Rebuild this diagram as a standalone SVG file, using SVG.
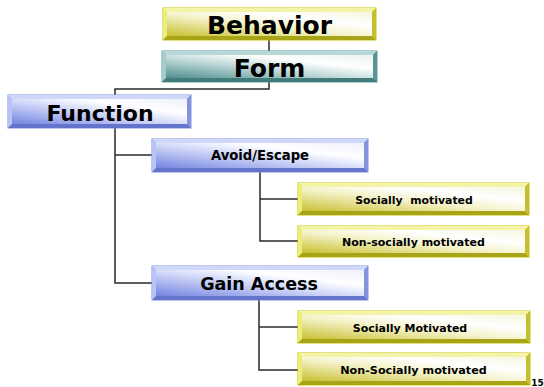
<svg xmlns="http://www.w3.org/2000/svg" width="544" height="387" viewBox="0 0 544 387">
<defs>
<linearGradient id="gy" x1="0" y1="1" x2="1" y2="0"><stop offset="0" stop-color="#c8c030"/><stop offset="0.45" stop-color="#f4f2c8"/><stop offset="0.7" stop-color="#ffffff"/><stop offset="1" stop-color="#f6f6e0"/></linearGradient>
<linearGradient id="gb" x1="0" y1="1" x2="1" y2="0"><stop offset="0" stop-color="#7384e0"/><stop offset="0.45" stop-color="#cfd6f8"/><stop offset="0.7" stop-color="#ffffff"/><stop offset="1" stop-color="#eef0fc"/></linearGradient>
<linearGradient id="gt" x1="0" y1="1" x2="1" y2="0"><stop offset="0" stop-color="#4f8e8e"/><stop offset="0.45" stop-color="#c4dcdc"/><stop offset="0.7" stop-color="#ffffff"/><stop offset="1" stop-color="#e8f2f2"/></linearGradient>
</defs>
<style>
.y .o{fill:#d8d820;stroke:#c8c400;stroke-width:1}
.y .t{fill:#f4f4a8}.y .l{fill:#ecec78}.y .b{fill:#a8a418}.y .r{fill:#c4be30}.y .i{fill:url(#gy)}
.bl .o{fill:#8c9cf0;stroke:#8090e8;stroke-width:1}
.bl .t{fill:#d0d8fa}.bl .l{fill:#b8c4f6}.bl .b{fill:#6474cc}.bl .r{fill:#8494dc}.bl .i{fill:url(#gb)}
.tl .o{fill:#6ca6a6;stroke:#5f9a9a;stroke-width:1}
.tl .t{fill:#b8d8d8}.tl .l{fill:#a4cccc}.tl .b{fill:#447c7c}.tl .r{fill:#5a9494}.tl .i{fill:url(#gt)}
text{font-family:"Comic Sans MS","DejaVu Sans",sans-serif;font-weight:bold;fill:#000;text-anchor:middle}
.con path{fill:none;stroke:#2a2a2a;stroke-width:1.5}
</style>
<g class="con">
<path d="M269,40 V51"/>
<path d="M269,82 V89 H115 V95"/>
<path d="M115,128 V283 H152"/>
<path d="M115,155 H152"/>
<path d="M260,172 V241 H298"/>
<path d="M260,199 H298"/>
<path d="M259,300 V370 H298"/>
<path d="M259,327 H298"/>
</g>
<g id="behavior" class="y">
<rect class="o" x="163" y="8" width="213" height="32"/>
<polygon class="t" points="163,8 376,8 372,12 167,12"/>
<polygon class="l" points="163,8 167,12 167,36 163,40"/>
<polygon class="b" points="163,40 167,36 372,36 376,40"/>
<polygon class="r" points="376,8 376,40 372,36 372,12"/>
<rect class="i" x="167" y="12" width="205" height="24"/>
<text x="269.5" y="34" font-size="25">Behavior</text>
</g>
<g id="form" class="tl">
<rect class="o" x="162" y="51" width="215" height="31"/>
<polygon class="t" points="162,51 377,51 373,55 166,55"/>
<polygon class="l" points="162,51 166,55 166,78 162,82"/>
<polygon class="b" points="162,82 166,78 373,78 377,82"/>
<polygon class="r" points="377,51 377,82 373,78 373,55"/>
<rect class="i" x="166" y="55" width="207" height="23"/>
<text x="269.5" y="77" font-size="25">Form</text>
</g>
<g id="function" class="bl">
<rect class="o" x="8" y="95" width="183" height="33"/>
<polygon class="t" points="8,95 191,95 187,99 12,99"/>
<polygon class="l" points="8,95 12,99 12,124 8,128"/>
<polygon class="b" points="8,128 12,124 187,124 191,128"/>
<polygon class="r" points="191,95 191,128 187,124 187,99"/>
<rect class="i" x="12" y="99" width="175" height="25"/>
<text x="100" y="121" font-size="22">Function</text>
</g>
<g id="avoid" class="bl">
<rect class="o" x="152" y="139" width="216" height="33"/>
<polygon class="t" points="152,139 368,139 364,143 156,143"/>
<polygon class="l" points="152,139 156,143 156,168 152,172"/>
<polygon class="b" points="152,172 156,168 364,168 368,172"/>
<polygon class="r" points="368,139 368,172 364,168 364,143"/>
<rect class="i" x="156" y="143" width="208" height="25"/>
<text x="260" y="160" font-size="13.2">Avoid/Escape</text>
</g>
<g id="soc1" class="y">
<rect class="o" x="298" y="183" width="231" height="32"/>
<polygon class="t" points="298,183 529,183 525,187 302,187"/>
<polygon class="l" points="298,183 302,187 302,211 298,215"/>
<polygon class="b" points="298,215 302,211 525,211 529,215"/>
<polygon class="r" points="529,183 529,215 525,211 525,187"/>
<rect class="i" x="302" y="187" width="223" height="24"/>
<text x="414" y="204" font-size="10.9" xml:space="preserve">Socially  motivated</text>
</g>
<g id="nonsoc1" class="y">
<rect class="o" x="298" y="226" width="231" height="31"/>
<polygon class="t" points="298,226 529,226 525,230 302,230"/>
<polygon class="l" points="298,226 302,230 302,253 298,257"/>
<polygon class="b" points="298,257 302,253 525,253 529,257"/>
<polygon class="r" points="529,226 529,257 525,253 525,230"/>
<rect class="i" x="302" y="230" width="223" height="23"/>
<text x="413.5" y="246" font-size="11">Non-socially motivated</text>
</g>
<g id="gain" class="bl">
<rect class="o" x="152" y="266" width="216" height="34"/>
<polygon class="t" points="152,266 368,266 364,270 156,270"/>
<polygon class="l" points="152,266 156,270 156,296 152,300"/>
<polygon class="b" points="152,300 156,296 364,296 368,300"/>
<polygon class="r" points="368,266 368,300 364,296 364,270"/>
<rect class="i" x="156" y="270" width="208" height="26"/>
<text x="259" y="290" font-size="17.5">Gain Access</text>
</g>
<g id="soc2" class="y">
<rect class="o" x="298" y="311" width="232" height="32"/>
<polygon class="t" points="298,311 530,311 526,315 302,315"/>
<polygon class="l" points="298,311 302,315 302,339 298,343"/>
<polygon class="b" points="298,343 302,339 526,339 530,343"/>
<polygon class="r" points="530,311 530,343 526,339 526,315"/>
<rect class="i" x="302" y="315" width="224" height="24"/>
<text x="410" y="332" font-size="11">Socially Motivated</text>
</g>
<g id="nonsoc2" class="y">
<rect class="o" x="298" y="353" width="232" height="32"/>
<polygon class="t" points="298,353 530,353 526,357 302,357"/>
<polygon class="l" points="298,353 302,357 302,381 298,385"/>
<polygon class="b" points="298,385 302,381 526,381 530,385"/>
<polygon class="r" points="530,353 530,385 526,381 526,357"/>
<rect class="i" x="302" y="357" width="224" height="24"/>
<text x="413.5" y="374" font-size="11.2">Non-Socially motivated</text>
</g>
<text x="537.5" y="386" font-size="9">15</text>
</svg>
